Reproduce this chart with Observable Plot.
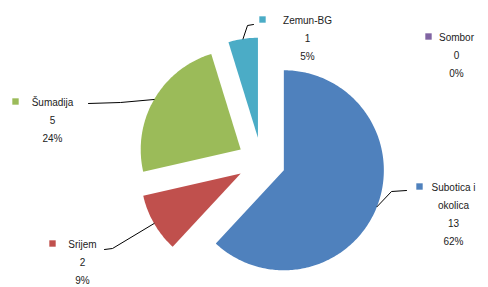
<!DOCTYPE html>
<html>
<head>
<meta charset="utf-8">
<script src="https://cdn.jsdelivr.net/npm/d3@7"></script>
<script src="https://cdn.jsdelivr.net/npm/@observablehq/plot@0.6"></script>
<style>
  html, body { margin: 0; padding: 0; background: #fff; }
  #chart { width: 488px; height: 287px; }
</style>
</head>
<body>
<div id="chart"></div>
<script>
// ---- data ----
const categories = ["Subotica i okolica", "Srijem", "Šumadija", "Zemun-BG", "Sombor"];
const counts = [13, 2, 5, 1, 0];
const percentLabels = ["62%", "9%", "24%", "5%", "0%"];
const colors = ["#4F81BD", "#C0504D", "#9BBB59", "#4BACC6", "#8064A2"];

// ---- layout (pixels) ----
const W = 488, H = 287;
const pie = { cx: 261, cy: 161, r: 100, explode: 24 };
const fontSize = 10, lineHeight = 1.78;
const labelLayout = [
  { cx: 453, y: 187, sq: [419, 186], leader: [[391, 191], [406, 190]] },
  { cx: 82,  y: 244, sq: [52, 243],  leader: [[112, 248], [104, 249]] },
  { cx: 52,  y: 102, sq: [15, 101],  leader: [[120, 102], [88, 103]] },
  { cx: 307, y: 20,  sq: [262, 19],  leader: [[247, 25], [253, 24]] },
  { cx: 456, y: 37,  sq: [428, 36],  leader: null }
];

const arcs = d3.pie().sort(null).value(d => d)(counts);
const polys = [], leaders = [], labels = [];
arcs.forEach((a, i) => {
  const mid = (a.startAngle + a.endAngle) / 2;
  const vx = pie.cx + pie.explode * Math.sin(mid);
  const vy = pie.cy - pie.explode * Math.cos(mid);
  if (a.endAngle - a.startAngle > 0) {
    polys.push({ i, x: vx, y: vy });
    const n = Math.max(4, Math.ceil((a.endAngle - a.startAngle) * 60));
    for (let k = 0; k <= n; k++) {
      const t = a.startAngle + (a.endAngle - a.startAngle) * k / n;
      polys.push({ i, x: vx + pie.r * Math.sin(t), y: vy - pie.r * Math.cos(t) });
    }
    const L = labelLayout[i];
    if (L.leader) {
      leaders.push({ i, x: vx + pie.r * Math.sin(mid), y: vy - pie.r * Math.cos(mid) });
      L.leader.forEach(p => leaders.push({ i, x: p[0], y: p[1] }));
    }
  }
  const L = labelLayout[i];
  labels.push({
    i, x: L.cx, y: L.y - fontSize * lineHeight / 2,
    sx: L.sq[0], sy: L.sq[1],
    text: categories[i] + "\n" + counts[i] + "\n" + percentLabels[i]
  });
});

const marks = [];
arcs.forEach((a, i) => {
  const pts = polys.filter(p => p.i === i);
  if (pts.length) marks.push(Plot.line(pts, { x: "x", y: "y", fill: colors[i], stroke: "none", curve: "linear-closed" }));
});
marks.push(Plot.line(leaders, { x: "x", y: "y", z: "i", stroke: "#000", strokeWidth: 1 }));
marks.push(Plot.dot(labels, { x: "sx", y: "sy", symbol: "square", r: 3.6, fill: d => colors[d.i], stroke: "none" }));
marks.push(Plot.text(labels, {
  x: "x", y: "y", text: "text", lineAnchor: "top", textAnchor: "middle",
  lineHeight, lineWidth: 6, fontSize, fill: "#222"
}));

const chart = Plot.plot({
  width: W, height: H,
  margin: 0,
  x: { domain: [0, W], range: [0, W], axis: null },
  y: { domain: [0, H], range: [0, H], axis: null },
  style: { fontFamily: "'Liberation Sans', Arial, sans-serif", background: "#fff" },
  marks
});
document.getElementById("chart").appendChild(chart);
</script>
</body>
</html>
